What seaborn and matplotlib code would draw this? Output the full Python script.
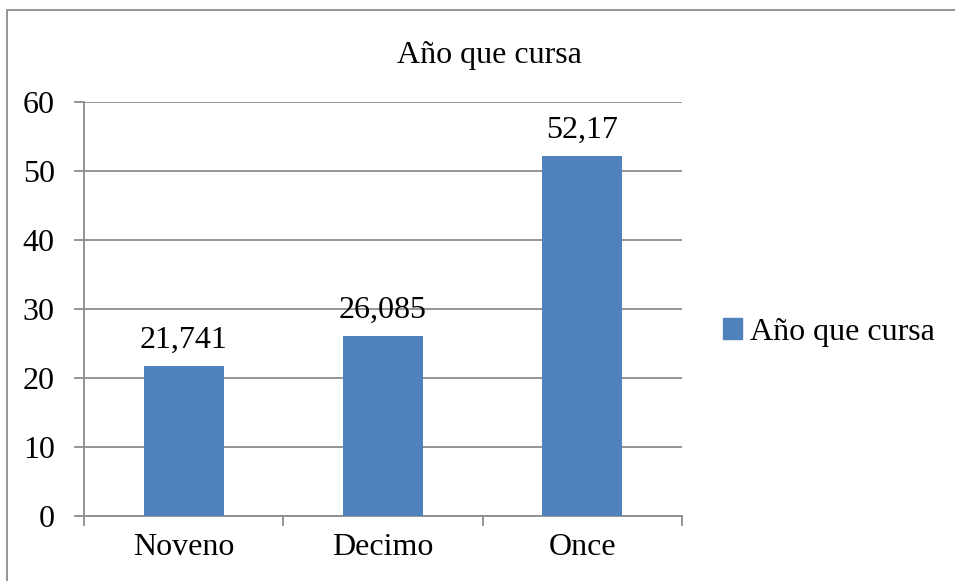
import matplotlib
matplotlib.use("Agg")
import matplotlib.pyplot as plt
import pandas as pd
import seaborn as sns
from matplotlib.patches import Patch, Rectangle

categories = ["Noveno", "Decimo", "Once"]
values = [21.741, 26.085, 52.17]
value_labels = ["21,741", "26,085", "52,17"]
series_name = "Año que cursa"

df = pd.DataFrame({"curso": categories, "valor": values})

sns.set_theme(style="white")
plt.rcParams["font.family"] = ["Liberation Serif", "DejaVu Serif"]
plt.rcParams["text.color"] = "black"

bar_color = "#4F81BD"
grid_color = "#8C8C8C"
fs = 23

fig = plt.figure(figsize=(9.55, 5.81), dpi=100)
ax = fig.add_axes([0.088, 0.112, 0.626, 0.712])

sns.barplot(data=df, x="curso", y="valor", color=bar_color, width=0.4,
            saturation=1, linewidth=0, ax=ax, zorder=3)

ax.set_ylim(0, 60)
ax.set_xlim(-0.5, 2.5)
ax.set_yticks(range(0, 61, 10))
ax.yaxis.grid(True, color=grid_color, linewidth=1.3, zorder=0)
ax.set_axisbelow(True)
ax.set_xlabel("")
ax.set_ylabel("")

for side in ["top", "right"]:
    ax.spines[side].set_visible(False)
for side in ["left", "bottom"]:
    ax.spines[side].set_color(grid_color)
    ax.spines[side].set_linewidth(1.3)

ax.tick_params(axis="y", labelsize=fs, length=7, color=grid_color, width=1.3,
               left=True, pad=14, labelcolor="black")
ax.tick_params(axis="x", which="major", labelsize=fs, length=0, pad=12,
               labelcolor="black")
ax.set_xticks([-0.5, 0.5, 1.5, 2.5], minor=True)
ax.tick_params(axis="x", which="minor", length=7, color=grid_color, width=1.3,
               bottom=True)

# value labels sit a little above each bar
for i, (v, lab) in enumerate(zip(values, value_labels)):
    ax.text(i, v + 2.7, lab, ha="center", va="baseline", fontsize=fs,
            color="black")

fig.text(0.512, 0.905, series_name, ha="center", va="center", fontsize=fs,
         color="black")

handle = Patch(facecolor=bar_color, edgecolor=bar_color)
leg = fig.legend([handle], [series_name], loc="center left",
                 bbox_to_anchor=(0.757, 0.428), frameon=False, fontsize=fs,
                 handlelength=0.6, handleheight=0.6, handletextpad=0.25,
                 borderaxespad=0, borderpad=0)
for t in leg.get_texts():
    t.set_color("black")

# outer chart frame (right/bottom edges fall outside the image)
fig.patches.append(Rectangle((0.007, -0.1), 1.2, 1.083,
                             transform=fig.transFigure, fill=False,
                             edgecolor=grid_color, linewidth=1.3))

fig.savefig("out.png", dpi=100)
